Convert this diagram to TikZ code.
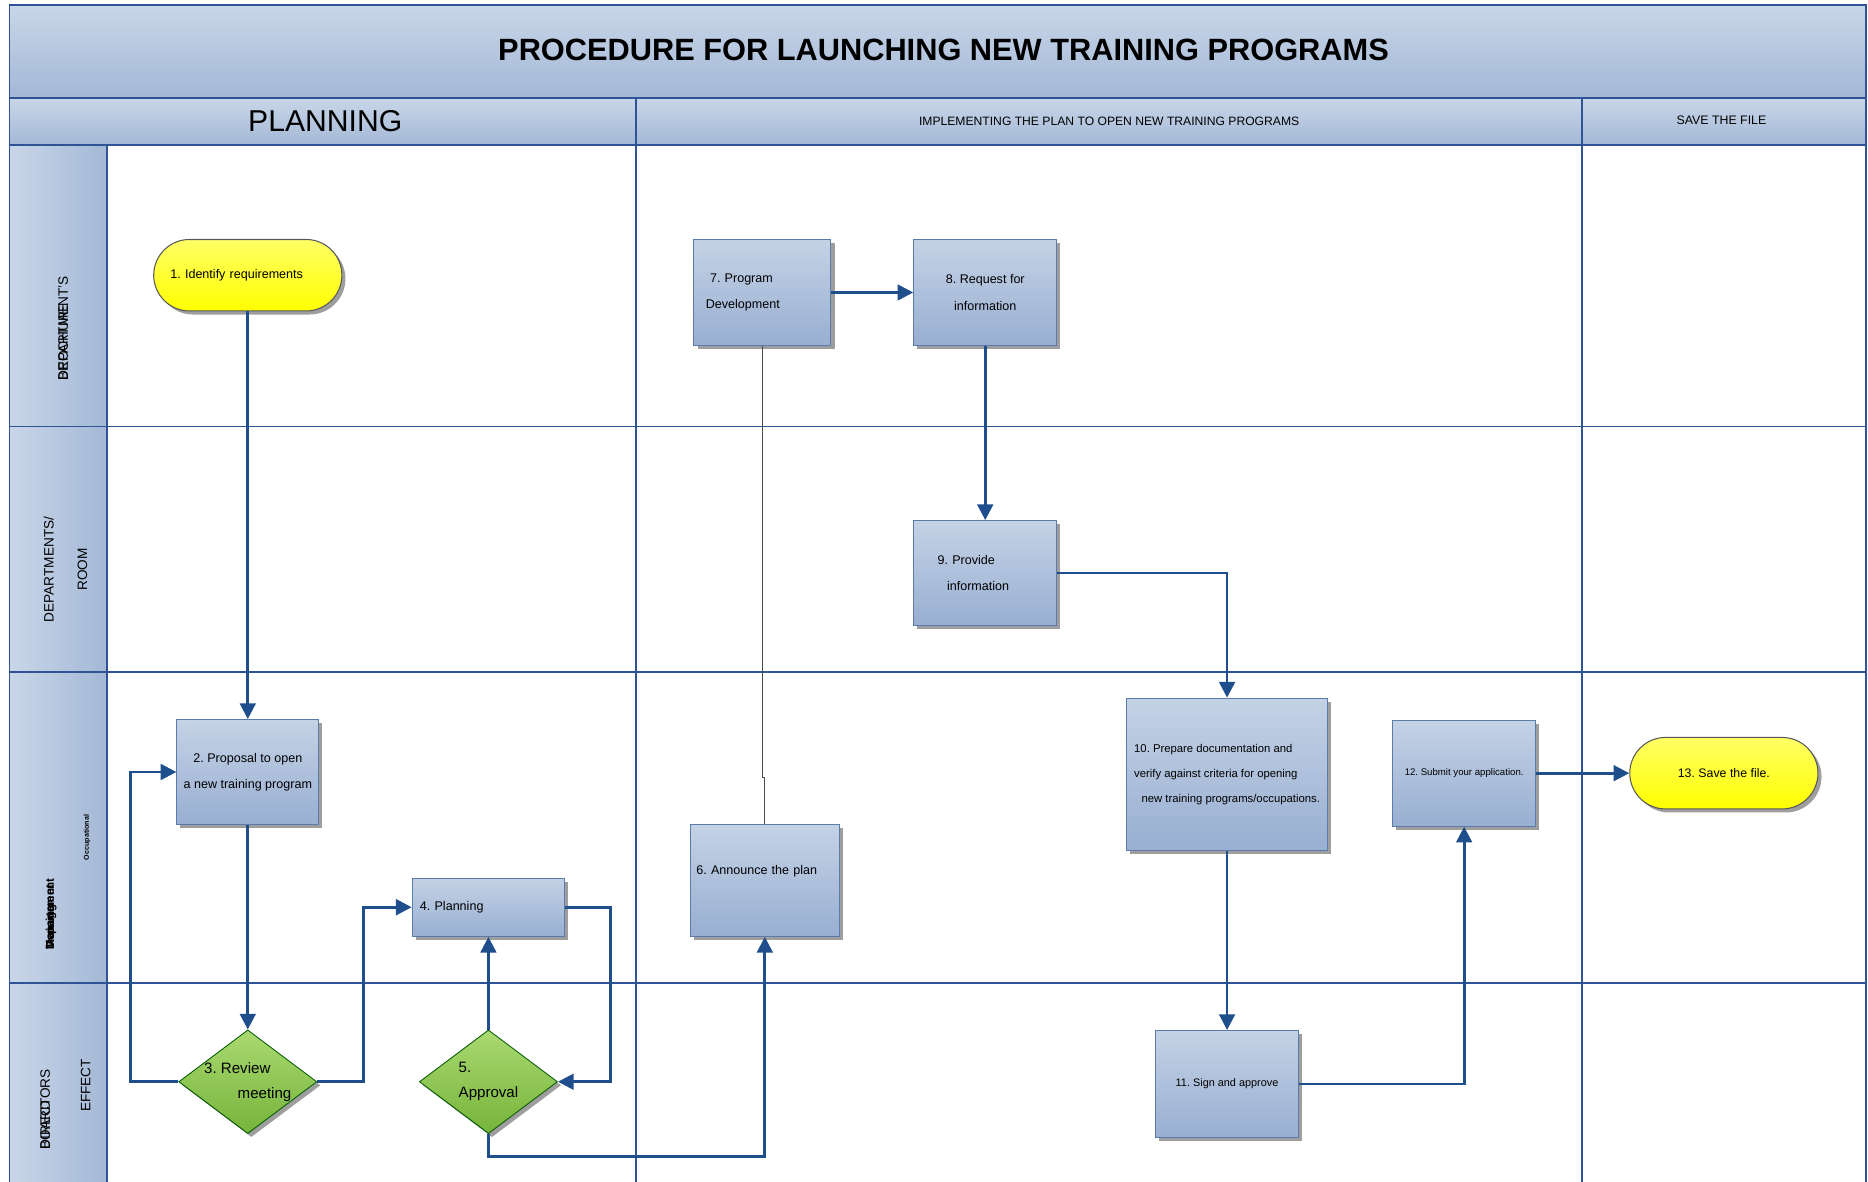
\documentclass[tikz,border=0pt]{standalone}
\usepackage{fontspec}
\setmainfont{Liberation Sans}
\usetikzlibrary{shapes.geometric,shadows,arrows.meta}
\definecolor{laneline}{HTML}{2F5496}
\definecolor{flowline}{HTML}{1F4E8C}
\definecolor{headtop}{HTML}{C9D6E8}
\definecolor{headbot}{HTML}{A3B8D6}
\definecolor{boxtop}{HTML}{C4D2E5}
\definecolor{boxbot}{HTML}{98AFD2}
\definecolor{boxedge}{HTML}{5B7BAA}
\definecolor{greentop}{HTML}{AAD971}
\definecolor{greenbot}{HTML}{76B43A}
\definecolor{termtop}{HTML}{FFFF66}
\definecolor{termbot}{HTML}{FFFF00}
\tikzset{
  lane/.style={draw=laneline,line width=0.9pt},
  band/.style={lane,shading=axis,top color=headtop,bottom color=headbot},
  lanetext/.style={font=\fontsize{6.5}{16}\selectfont,rotate=90,inner sep=0pt},
  shade box/.style={drop shadow={shadow xshift=1.7pt,shadow yshift=-1.7pt,fill=black!38,opacity=1}},
  stepbox/.style={shade box,draw=boxedge,line width=0.5pt,top color=boxtop,bottom color=boxbot,
    minimum width=2.4cm,minimum height=1.78cm,inner sep=2pt,align=center,
    font=\fontsize{6}{12.5}\selectfont},
  terminal/.style={shade box,draw=black!65,line width=0.5pt,top color=termtop,bottom color=termbot,
    rounded corners=0.6cm,minimum width=3.16cm,minimum height=1.2cm,
    font=\fontsize{6}{7}\selectfont},
  decision/.style={shade box,diamond,draw=green!35!black,line width=0.4pt,top color=greentop,bottom color=greenbot,
    minimum width=2.32cm,minimum height=1.74cm,inner sep=0pt},
  decisiontext/.style={align=left,font=\fontsize{7.2}{12}\selectfont},
  flow/.style={draw=flowline,line width=1.3pt,-{Triangle[length=7.5pt,width=7.5pt]}},
  thinlink/.style={draw=black!70,line width=0.4pt}
}
\begin{document}
\frenchspacing
\begin{tikzpicture}[x=0.02cm,y=-0.02cm]
\useasboundingbox (0,0) rectangle (1568,992);
% bands and lanes
\draw[band] (8,4) rectangle (1566,82);
\draw[band] (8,82) rectangle (1566,122);
\draw[lane,left color=headtop,right color=headbot] (8,122) rectangle (90,995);
\foreach \y in {358,564,825} \draw[lane] (8,\y) -- (1566,\y);
\foreach \x in {534,1328} \draw[lane] (\x,82) -- (\x,995);
\draw[lane] (8,995) -- (8,4) -- (1566,4) -- (1566,995);
% headers
\node[font=\fontsize{14.7}{17}\selectfont\bfseries] (title) at (792,42) {PROCEDURE FOR LAUNCHING NEW TRAINING PROGRAMS};
\node[font=\fontsize{14.4}{17}\selectfont] (phase1) at (273,102) {PLANNING};
\node[font=\fontsize{5.8}{7}\selectfont] (phase2) at (931,102) {IMPLEMENTING THE PLAN TO OPEN NEW TRAINING PROGRAMS};
\node[font=\fontsize{5.9}{7}\selectfont] (phase3) at (1445,101) {SAVE THE FILE};
% lane names
\node[lanetext,anchor=west] (L1a) at (53,320) {DEPARTMENT'S};
\node[lanetext,anchor=west] (L1b) at (53,320) {BROCHURE};
\node[lanetext,align=center] (L2) at (55,478) {DEPARTMENTS/\\ROOM};
\node[lanetext,anchor=west,font=\fontsize{5.5}{7}\selectfont\bfseries] (L3a) at (43,797) {Department};
\node[lanetext,anchor=west,font=\fontsize{5.5}{7}\selectfont\bfseries] (L3b) at (43,797) {Training};
\node[lanetext,anchor=west,font=\fontsize{5.5}{7}\selectfont\bfseries] (L3c) at (43,797) {Management};
\node[lanetext,font=\fontsize{3.4}{4}\selectfont\bfseries] (L3d) at (73,703) {Occupational};
\node[lanetext,anchor=west] (L4a) at (38,965) {DIRECTORS};
\node[lanetext,anchor=west] (L4b) at (38,965) {BOARD};
\node[lanetext] (L4c) at (72,911) {EFFECT};
% steps
\node[terminal,text width=2.6cm,align=left] (S1) at (208,231) {1. Identify requirements};
\node[stepbox,minimum width=2.38cm,minimum height=1.76cm] (S2) at (208,648) {2. Proposal to open\\a new training program};
\node[decision,label={[decisiontext]center:{3. Review\\\hspace*{16pt}meeting}}] (S3) at (208,908) {};
\node[stepbox,minimum width=2.56cm,minimum height=0.98cm,text width=2.3cm,align=left] (S4) at (410,761.5) {4. Planning};
\node[decision,label={[decisiontext]center:{5.\\Approval}}] (S5) at (410,908) {};
\node[stepbox,minimum width=2.5cm,minimum height=1.88cm,text width=2.3cm,align=left] (S6) at (642,739) {\raisebox{10pt}{6. Announce the plan}};
\node[stepbox,minimum width=2.3cm,text width=1.9cm,align=left] (S7) at (640,245.5) {\hspace*{2pt}7. Program\\Development};
\node[stepbox] (S8) at (827,245.5) {8. Request for\\information};
\node[stepbox,minimum height=1.76cm,text width=1.6cm,align=left] (S9) at (827,481) {9. Provide\\\hspace*{4.5pt}information};
\node[stepbox,minimum width=3.38cm,minimum height=2.56cm,align=left,font=\fontsize{5.4}{12}\selectfont] (S10) at (1030,650) {10. Prepare documentation and\\verify against criteria for opening\\\hspace*{3.5pt}new training programs/occupations.};
\node[stepbox,minimum height=1.8cm,font=\fontsize{5.2}{7}\selectfont] (S11) at (1030,910) {11. Sign and approve};
\node[stepbox,font=\fontsize{4.6}{6}\selectfont] (S12) at (1229,649) {12. Submit your application.};
\node[terminal,font=\fontsize{5.9}{7}\selectfont] (S13) at (1447,649) {13. Save the file.};
% connectors
\draw[flow] (S1) to (S2);
\draw[flow] (S2) to (S3);
\draw[flow] (S3.west) -- ++(-40,0) |- (S2.west);
\draw[flow] (S3.east) -- ++(39,0) |- (S4.west);
\draw[flow] (S4.east) -- ++(38,0) |- (S5.east);
\draw[flow] (S5) to (S4);
\draw[flow] (S5.south) -- ++(0,19) -| (S6.south);
\draw[thinlink] (S7.south) -- ++(0,362) -| (S6.north);
\draw[flow] (S7) to (S8);
\draw[flow] (S8) to (S9);
\draw[flow] (S9.east) -| (S10.north);
\draw[flow] (S10) to (S11);
\draw[flow] (S11.east) -| (S12.south);
\draw[flow] (S12) to (S13);
\end{tikzpicture}
\end{document}
